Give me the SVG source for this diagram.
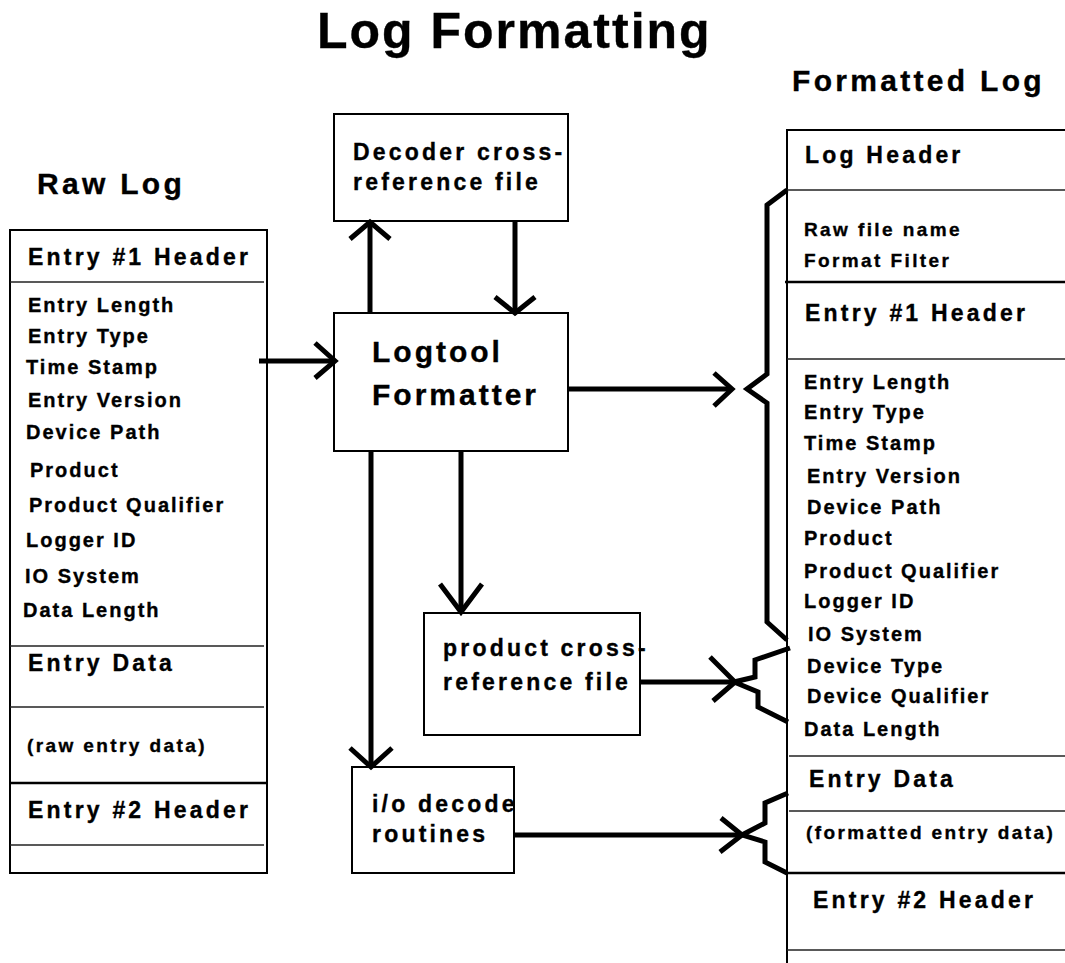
<svg xmlns="http://www.w3.org/2000/svg" width="1065" height="963" viewBox="0 0 1065 963">
  <style>
    .t { font-family: "Liberation Sans", Arial, sans-serif; font-weight: bold; fill: #000; stroke: #000; stroke-width: 0.35; }
    .title { font-size: 50px; letter-spacing: 2px; }
    .head { font-size: 30px; letter-spacing: 3.3px; }
    .hdr { font-size: 23px; letter-spacing: 3.2px; }
    .item { font-size: 20px; letter-spacing: 2px; }
    .small { font-size: 19px; letter-spacing: 2.4px; }
    .lbl { font-size: 23px; letter-spacing: 3.2px; }
    .big { font-size: 30px; letter-spacing: 3px; }
    .frame { fill: #fff; stroke: #000; stroke-width: 2; }
    .edge { fill: none; stroke: #000; stroke-width: 2; }
    .rule { stroke: #222; stroke-width: 1.3; }
    .rule2 { stroke: #000; stroke-width: 2.5; }
    .conn { fill: none; stroke: #000; stroke-width: 5; stroke-linecap: butt; stroke-linejoin: miter; }
  </style>
  <rect width="1065" height="963" fill="#fff"/>

  <!-- heading -->
  <g id="title">
    <text class="t title" x="317" y="48">Log Formatting</text>
  </g>

  <!-- raw log record layout -->
  <g id="raw-log">
    <text class="t head" x="37" y="194">Raw Log</text>
    <rect class="frame" x="10" y="230" width="257" height="643"/>
    <line class="rule" x1="10" y1="282" x2="264" y2="282"/>
    <line class="rule" x1="10" y1="646" x2="264" y2="646"/>
    <line class="rule" x1="10" y1="707" x2="264" y2="707"/>
    <line class="rule2" x1="10" y1="783" x2="266" y2="783"/>
    <line class="rule" x1="10" y1="845" x2="264" y2="845"/>
    <text class="t hdr" x="28" y="265">Entry #1 Header</text>
    <text class="t item" x="28" y="312">Entry Length</text>
    <text class="t item" x="28" y="343">Entry Type</text>
    <text class="t item" x="26" y="374">Time Stamp</text>
    <text class="t item" x="28" y="407">Entry Version</text>
    <text class="t item" x="26" y="439">Device Path</text>
    <text class="t item" x="30" y="477">Product</text>
    <text class="t item" x="29" y="512">Product Qualifier</text>
    <text class="t item" x="26" y="547">Logger ID</text>
    <text class="t item" x="25" y="583">IO System</text>
    <text class="t item" x="23" y="617">Data Length</text>
    <text class="t hdr" x="28" y="671">Entry Data</text>
    <text class="t small" x="27" y="752">(raw entry data)</text>
    <text class="t hdr" x="28" y="818">Entry #2 Header</text>
  </g>

  <g id="decoder-xref">
    <rect class="frame" x="334" y="114" width="234" height="107"/>
    <text class="t lbl" x="353" y="160">Decoder cross-</text>
    <text class="t lbl" x="353" y="190">reference file</text>
  </g>

  <g id="logtool">
    <rect class="frame" x="334" y="313" width="234" height="138"/>
    <text class="t big" x="372" y="362">Logtool</text>
    <text class="t big" x="372" y="405">Formatter</text>
  </g>

  <g id="product-xref">
    <rect class="frame" x="424" y="613" width="216" height="122"/>
    <text class="t lbl" x="443" y="656">product cross-</text>
    <text class="t lbl" x="443" y="690">reference file</text>
  </g>

  <g id="io-decode">
    <rect class="frame" x="352" y="767" width="162" height="106"/>
    <text class="t lbl" x="372" y="812">i/o decode</text>
    <text class="t lbl" x="372" y="842">routines</text>
  </g>

  <!-- formatted log record layout (runs off the page edge) -->
  <g id="formatted-log">
    <text class="t head" x="792" y="91">Formatted Log</text>
    <polyline class="edge" points="1065,130 787,130 787,963"/>
    <line class="rule" x1="787" y1="190" x2="1065" y2="190"/>
    <line class="rule2" x1="785" y1="282" x2="1065" y2="282"/>
    <line class="rule" x1="787" y1="359" x2="1065" y2="359"/>
    <line class="rule" x1="789" y1="756" x2="1065" y2="756"/>
    <line class="rule" x1="789" y1="811" x2="1065" y2="811"/>
    <line class="rule2" x1="787" y1="873" x2="1065" y2="873"/>
    <line class="rule" x1="787" y1="950" x2="1065" y2="950"/>
    <text class="t hdr" x="805" y="163">Log Header</text>
    <text class="t small" x="804" y="236">Raw file name</text>
    <text class="t small" x="804" y="267">Format Filter</text>
    <text class="t hdr" x="805" y="321">Entry #1 Header</text>
    <text class="t item" x="804" y="389">Entry Length</text>
    <text class="t item" x="804" y="419">Entry Type</text>
    <text class="t item" x="804" y="450">Time Stamp</text>
    <text class="t item" x="807" y="483">Entry Version</text>
    <text class="t item" x="807" y="514">Device Path</text>
    <text class="t item" x="804" y="545">Product</text>
    <text class="t item" x="804" y="578">Product Qualifier</text>
    <text class="t item" x="804" y="608">Logger ID</text>
    <text class="t item" x="808" y="641">IO System</text>
    <text class="t item" x="807" y="673">Device Type</text>
    <text class="t item" x="807" y="703">Device Qualifier</text>
    <text class="t item" x="804" y="736">Data Length</text>
    <text class="t hdr" x="809" y="787">Entry Data</text>
    <text class="t small" x="806" y="839">(formatted entry data)</text>
    <text class="t hdr" x="813" y="908">Entry #2 Header</text>
  </g>

  <!-- arrows and braces -->
  <g id="connectors">
    <!-- raw log into formatter -->
    <line class="conn" x1="259" y1="361" x2="335" y2="361"/>
    <polyline class="conn" points="315,343 335,361 315,378"/>
    <!-- formatter up to decoder xref -->
    <line class="conn" x1="370" y1="313" x2="370" y2="224"/>
    <polyline class="conn" points="350,239 370,222 390,239"/>
    <!-- decoder xref down to formatter -->
    <line class="conn" x1="515" y1="221" x2="515" y2="310"/>
    <polyline class="conn" points="495,297 515,313 535,297"/>
    <!-- formatter down to i/o routines -->
    <line class="conn" x1="371" y1="451" x2="371" y2="765"/>
    <polyline class="conn" points="350,748 371,767 392,748"/>
    <!-- formatter down to product xref -->
    <line class="conn" x1="461" y1="451" x2="461" y2="610"/>
    <polyline class="conn" points="440,584 461,612 482,584"/>
    <!-- formatter out to formatted log -->
    <line class="conn" x1="568" y1="389" x2="731" y2="389"/>
    <polyline class="conn" points="714,373 732,389 714,406"/>
    <polyline class="conn" points="787,190 767,205 767,374 747,389 767,403 767,622 787,640"/>
    <!-- product xref into device fields -->
    <line class="conn" x1="640" y1="682" x2="734" y2="682"/>
    <polyline class="conn" points="710,657 735,682 713,701"/>
    <polyline class="conn" points="790,648 755,660 755,677 734,682 758,692 758,707 788,722"/>
    <!-- i/o routines into entry data -->
    <line class="conn" x1="514" y1="835" x2="741" y2="835"/>
    <polyline class="conn" points="721,818 742,835 720,852"/>
    <polyline class="conn" points="788,793 765,803 765,823 742,835 765,842 765,862 787,873"/>
  </g>
</svg>
